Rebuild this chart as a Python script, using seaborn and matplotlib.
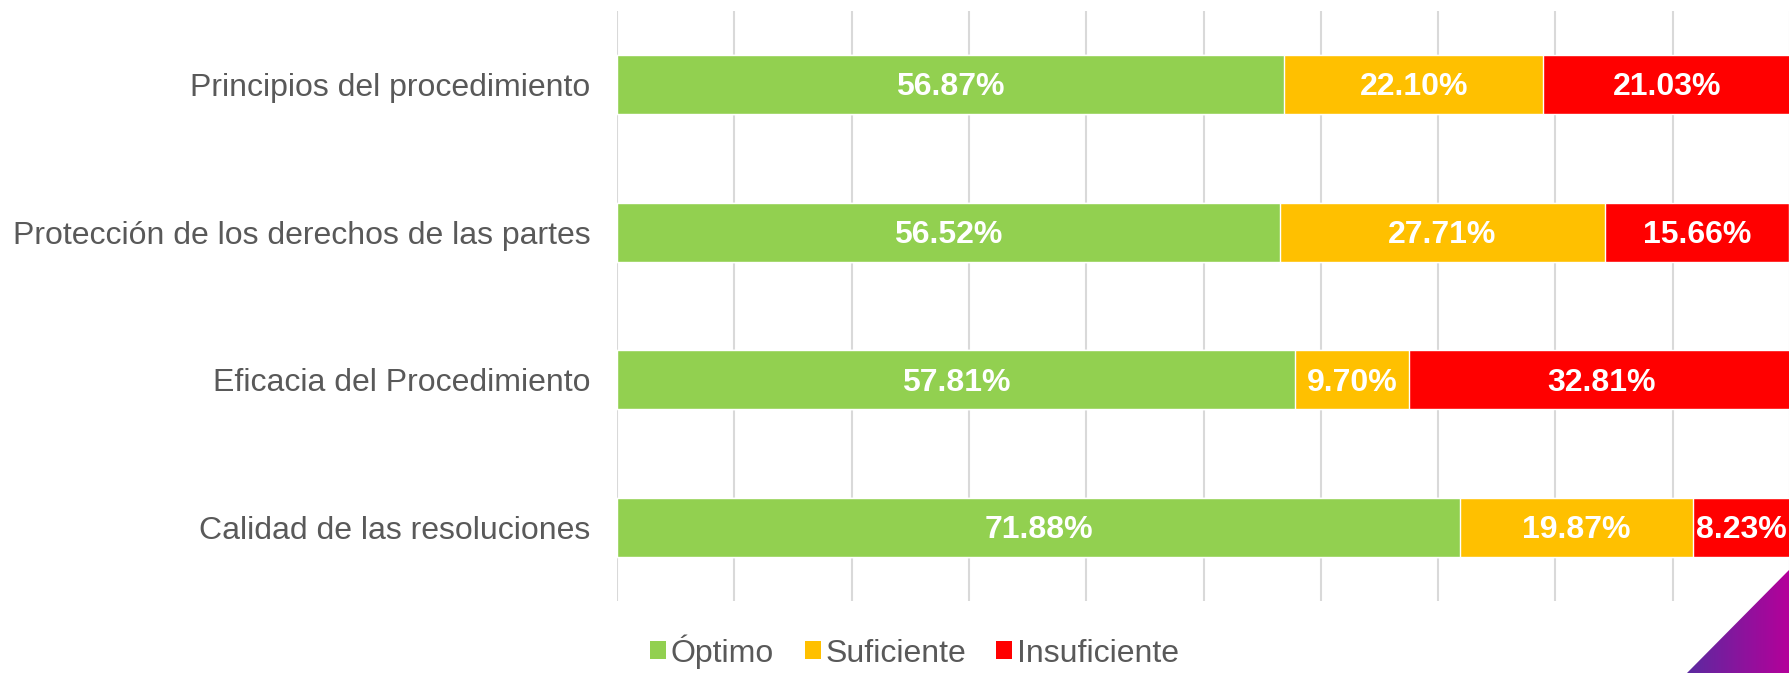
import numpy as np
import pandas as pd
import matplotlib.pyplot as plt
from matplotlib.patches import Patch, Polygon
from matplotlib.colors import LinearSegmentedColormap
import seaborn as sns

categorias = ["Principios del procedimiento",
              "Protección de los derechos de las partes",
              "Eficacia del Procedimiento",
              "Calidad de las resoluciones"]
optimo = [56.87, 56.52, 57.81, 71.88]
suficiente = [22.10, 27.71, 9.70, 19.87]
insuficiente = [21.03, 15.66, 32.81, 8.23]

series = ["Óptimo", "Suficiente", "Insuficiente"]
colores = ["#92d050", "#ffc000", "#ff0000"]

df = pd.DataFrame({"categoria": categorias, "Óptimo": optimo,
                   "Suficiente": suficiente, "Insuficiente": insuficiente})
df["c1"] = df["Óptimo"]
df["c2"] = df["c1"] + df["Suficiente"]
df["c3"] = df["c2"] + df["Insuficiente"]

sns.set_style("white")
plt.rcParams['font.family'] = ['Liberation Sans', 'DejaVu Sans']

fig = plt.figure(figsize=(17.9, 6.73), dpi=100)
ax = fig.add_axes([0.3447, 0.107, 0.6553, 0.877])

# stacked bars: draw cumulative totals back to front
for col, color in zip(["c3", "c2", "c1"], colores[::-1]):
    sns.barplot(data=df, x=col, y="categoria", color=color, width=0.4,
                orient="h", ax=ax, saturation=1, zorder=3)

ax.set_xlim(0, 100)
ax.set_ylim(3.5, -0.5)
ax.set_xticks(np.arange(0, 101, 10))
ax.xaxis.grid(True, color="#d9d9d9", linewidth=1.5, zorder=0)
ax.set_axisbelow(True)
for s in ax.spines.values():
    s.set_visible(False)
ax.tick_params(axis="x", length=0, labelbottom=False)
ax.tick_params(axis="y", length=0, labelsize=23, labelcolor="#595959", pad=19)
ax.set_xlabel("")
ax.set_ylabel("")

# value labels
for i in range(len(categorias)):
    starts = [0, df["c1"][i], df["c2"][i]]
    vals = [optimo[i], suficiente[i], insuficiente[i]]
    for st, v in zip(starts, vals):
        ax.text(st + v / 2, i + 0.02, f"{v:.2f}%", ha="center", va="center",
                color="white", fontsize=23, fontweight="bold", zorder=5)

handles = [Patch(facecolor=c, edgecolor="none") for c in colores]
fig.legend(handles, series, loc="center", bbox_to_anchor=(0.511, 0.032),
           ncol=3, frameon=False, fontsize=23, handlelength=0.5,
           handleheight=0.5, handletextpad=0.15, columnspacing=0.95,
           labelcolor="#595959", borderpad=0)

# purple decoration in the bottom-right corner
dax = fig.add_axes([1687 / 1790, 0, 103 / 1790, 104 / 673])
dax.set_axis_off()
grad = np.linspace(0, 1, 256).reshape(1, -1)
cmap = LinearSegmentedColormap.from_list("p", ["#5b2aa0", "#b5009a"])
im = dax.imshow(grad, extent=[0, 1, 0, 1], aspect="auto", cmap=cmap)
tri = Polygon([[0, 0], [1, 1], [1, 0]], closed=True, transform=dax.transData)
im.set_clip_path(tri)
dax.set_xlim(0, 1)
dax.set_ylim(0, 1)

fig.savefig("out.png", dpi=100)
